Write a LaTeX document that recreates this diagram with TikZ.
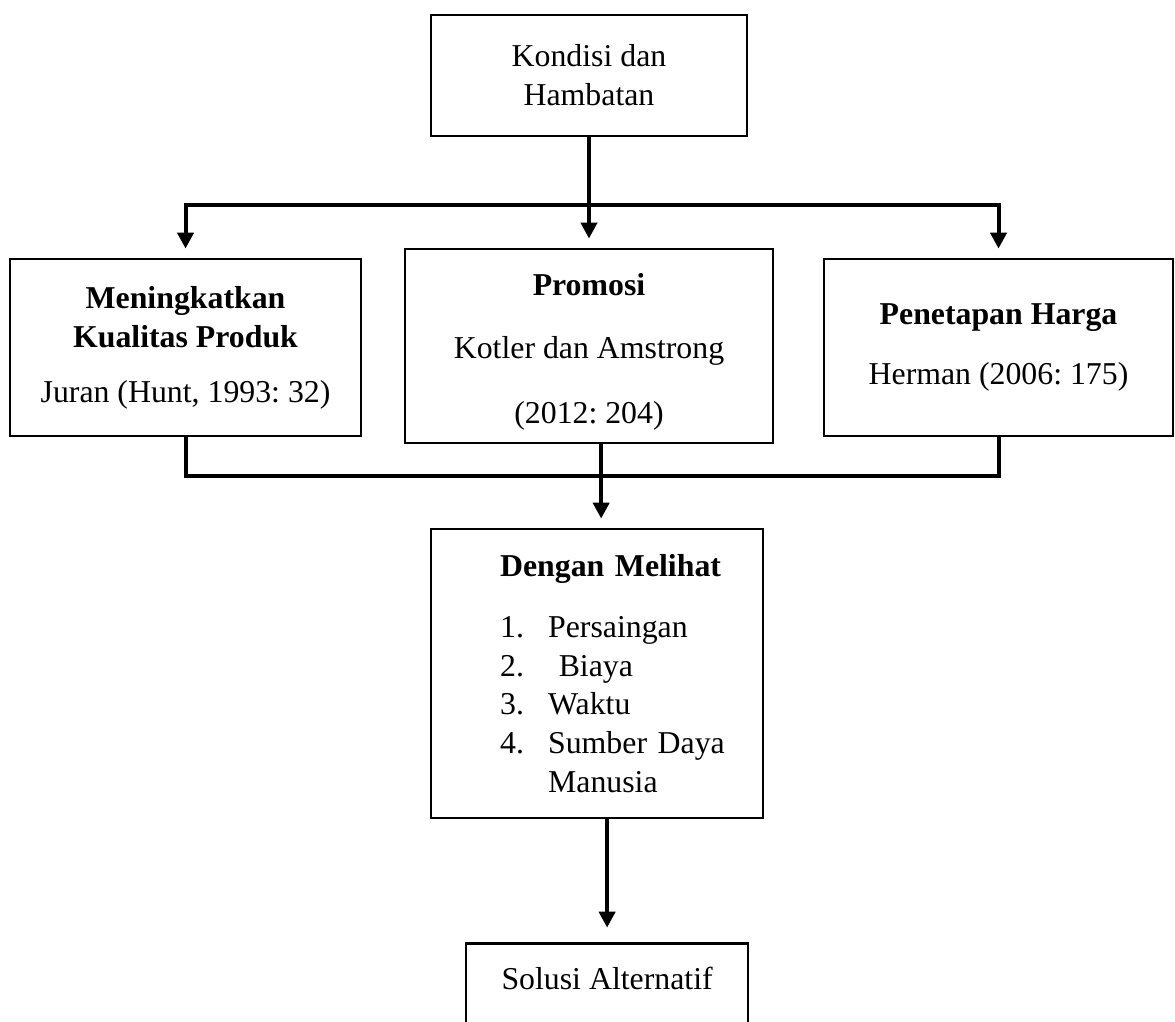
\documentclass[tikz,border=0pt]{standalone}
\usepackage{fontspec}
\setmainfont{Liberation Serif}
\usetikzlibrary{arrows.meta}
\usetikzlibrary{positioning}
\colorlet{penColor}{black}
\tikzset{>={Triangle[length=6pt,width=6pt]}}
\tikzset{box/.style={draw=penColor, line width=.9pt, align=center, font=\fontsize{12}{14.7}\selectfont\frenchspacing},
	conn/.style={penColor, line width=1.5pt},
	arr/.style={conn, ->, shorten >=3.5pt}}
\newcommand{\itm}[2]{\hspace*{.915cm}\makebox[.637cm][l]{#1}#2}

\begin{document}
\begin{tikzpicture}
		\path[use as bounding box, clip] (0,0) rectangle (15.58,-13.54);
		\node[box, minimum width=4.19cm, minimum height=1.605cm] (kondisi) at (7.81,-1.001) {Kondisi dan\\Hambatan};
		\node[box, minimum width=4.655cm, minimum height=2.347cm] (kualitas) at (2.46,-4.609) {\textbf{Meningkatkan}\\\textbf{Kualitas Produk}\\[6pt]Juran (Hunt, 1993: 32)};
		\node[box, minimum width=4.881cm, minimum height=2.573cm] (promosi) at (7.81,-4.589) {\rule{0pt}{12.8pt}\textbf{Promosi}\\[9pt]Kotler dan Amstrong\\[10pt](2012: 204)};
		\node[box, minimum width=4.629cm, minimum height=2.347cm] (harga) at (13.24,-4.609) {\textbf{Penetapan Harga}\\[8pt]Herman (2006: 175)};
		\node[box, align=left, inner sep=0pt, text width=4.403cm, minimum height=3.833cm] (melihat) at (7.918,-8.932) {\hspace*{.915cm}\textbf{Dengan Melihat}\\[8.3pt]\itm{1.}{Persaingan}\\\itm{2.}{\ Biaya}\\\itm{3.}{Waktu}\\\itm{4.}{Sumber Daya}\\\itm{}{Manusia}};
		\node[box, anchor=north, inner sep=0pt, minimum width=3.74cm, text height=.61cm, text depth=.85cm] (solusi) at (8.05,-12.493) {Solusi Alternatif};% runs off the page
		
		\coordinate (fork) at (7.81,-2.719);
		\coordinate (join) at (7.971,-6.313);
		\draw[arr] (kondisi) -- (promosi);
		\draw[arr] (fork) -| (kualitas);
		\draw[arr] (fork) -| (harga);
		\draw[conn] (kualitas) |- (join) -| (harga);
		\draw[conn] (promosi.south -| join) -- (join);
		\draw[arr] (join) -- (join |- melihat.north);
		\draw[arr, shorten >=5.5pt] (melihat.south -| solusi.north) -- (solusi.north);
		\end{tikzpicture}
\end{document}
